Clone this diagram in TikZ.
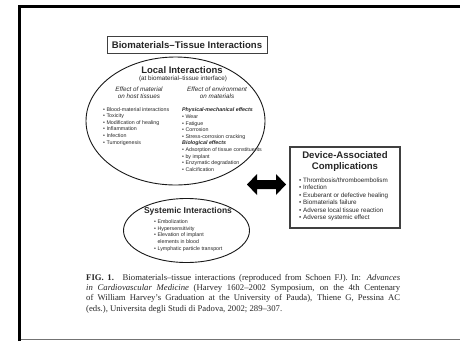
\documentclass[tikz,border=0pt]{standalone}
\usepackage{fontspec}
\setmainfont{Liberation Serif}
\setsansfont{Liberation Sans}
\usetikzlibrary{shapes.geometric}
\begin{document}
\begin{tikzpicture}[x=1pt,y=-1pt,
  lbl/.style={inner sep=0pt, text=black!85},
  list/.style={lbl, font=\sffamily\fontsize{5.3}{6.6}\selectfont, align=left, anchor=north west},
  biglist/.style={lbl, font=\sffamily\fontsize{6.3}{7.5}\selectfont, align=left, anchor=north west},
  head/.style={lbl, font=\sffamily\bfseries\fontsize{9.5}{11}\selectfont, align=center},
  sub/.style={lbl, font=\sffamily\itshape\fontsize{6.3}{7.3}\selectfont, align=center},
  oval/.style={draw=black!90, line width=0.9pt, ellipse, inner sep=0pt},
  boxed/.style={draw=black!75, inner sep=0pt}
]
\useasboundingbox (0,0) rectangle (460,341);
% page frame
\draw[line width=2.6pt] (19.2,341) -- (19.2,6.2) -- (460,6.2);
\draw[black!55, line width=1pt] (20.5,339.6) -- (460,339.6);

% title box
\node[boxed, line width=0.9pt, minimum width=160pt, minimum height=17pt] (title) at (187,44.5) {};
\node[head, font=\sffamily\bfseries\fontsize{9.6}{11}\selectfont] (titletext) at (187,44.8) {Biomaterials–Tissue Interactions};

% local interactions ellipse
\node[oval, minimum width=179pt, minimum height=128pt] (local) at (175.5,121) {};
\node[head] (localtitle) at (182,70.5) {Local Interactions};
\node[lbl, font=\sffamily\fontsize{6.3}{7}\selectfont] (localsub) at (183,78.4) {(at biomaterial–tissue interface)};
\node[sub] (effmat) at (139,92.6) {Effect of material\\on host tissues};
\node[sub] (effenv) at (217,92.6) {Effect of environment\\on materials};
\node[list] (leftlist) at (103,107) {\textbullet\ Blood-material interactions\\
\textbullet\ Toxicity\\
\textbullet\ Modification of healing\\
\textbullet\ Inflammation\\
\textbullet\ Infection\\
\textbullet\ Tumorigenesis};
\node[list] (rightlist) at (182,107.8) {\textbf{\textit{Physical-mechanical effects}}\\
\textbullet\ Wear\\
\textbullet\ Fatigue\\
\textbullet\ Corrosion\\
\textbullet\ Stress-corrosion cracking\\
\textbf{\textit{Biological effects}}\\
\textbullet\ Adsorption of tissue constituents\\
\textbullet\ by implant\\
\textbullet\ Enzymatic degradation\\
\textbullet\ Calcification};

% systemic ellipse
\node[oval, minimum width=126pt, minimum height=64pt] (systemic) at (186.5,230.5) {};
\node[head, font=\sffamily\bfseries\fontsize{8.5}{10}\selectfont] (systitle) at (188,211.3) {Systemic Interactions};
\node[list, font=\sffamily\fontsize{5.3}{6.7}\selectfont] (syslist) at (154,219.3) {\textbullet\ Embolization\\
\textbullet\ Hypersensitivity\\
\textbullet\ Elevation of implant\\
\phantom{\textbullet\ }elements in blood\\
\textbullet\ Lymphatic particle transport};

% double arrow
\coordinate (arrowc) at (266.5,184.5);
\fill[black] ([xshift=-19.5pt]arrowc) -- ++(10,-10.5) -- ++(0,6) -- ++(19,0) -- ++(0,-6)
  -- ([xshift=19.5pt]arrowc) -- ++(-10,10.5) -- ++(0,-6) -- ++(-19,0) -- ++(0,6) -- cycle;

% device box
\node[boxed, line width=1.3pt, minimum width=110pt, minimum height=81pt] (device) at (345,187.5) {};
\node[head, font=\sffamily\bfseries\fontsize{9.6}{11}\selectfont] (devtitle) at (345,161.5) {Device-Associated\\Complications};
\node[biglist] (devlist) at (299,177.6) {\textbullet\ Thrombosis/thromboembolism\\
\textbullet\ Infection\\
\textbullet\ Exuberant or defective healing\\
\textbullet\ Biomaterials failure\\
\textbullet\ Adverse local tissue reaction\\
\textbullet\ Adverse systemic effect};

% caption
\node[lbl, anchor=north west, align=left, font=\rmfamily\fontsize{8.7}{10.3}\selectfont] (caption) at (86,274) {%
\makebox[314pt][s]{\textbf{FIG. 1.}\quad Biomaterials–tissue interactions (reproduced from Schoen FJ). In: \textit{Advances}}\\
\makebox[314pt][s]{\textit{in Cardiovascular Medicine} (Harvey 1602–2002 Symposium, on the 4th Centenary}\\
\makebox[314pt][s]{of William Harvey's Graduation at the University of Pauda), Thiene G, Pessina AC}\\
(eds.), Universita degli Studi di Padova, 2002; 289–307.};
\end{tikzpicture}
\end{document}
